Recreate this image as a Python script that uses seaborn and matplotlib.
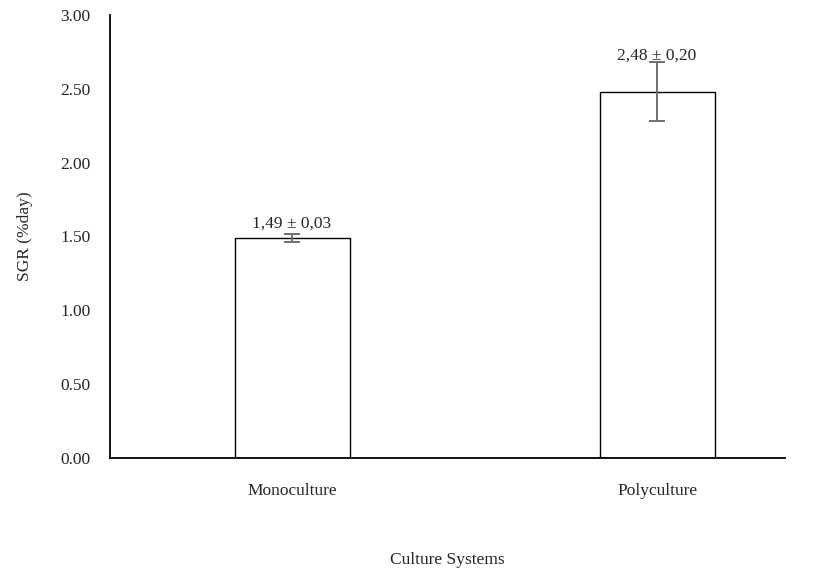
import matplotlib
matplotlib.use('Agg')
import matplotlib.pyplot as plt
import seaborn as sns
import pandas as pd

# dados do grafico
sistemas = ['Monoculture', 'Polyculture']
sgr_media = [1.49, 2.48]
sgr_desvio = [0.03, 0.20]
rotulos = ['1,49 ± 0,03', '2,48 ± 0,20']
yticks = [0.0, 0.5, 1.0, 1.5, 2.0, 2.5, 3.0]

sns.set_style('white')
plt.rcParams['font.family'] = ['Liberation Serif', 'DejaVu Serif']

df = pd.DataFrame({'sistema': sistemas, 'sgr': sgr_media})

fig = plt.figure(figsize=(8.29, 5.74), dpi=100)
ax = fig.add_axes([0.1327, 0.202, 0.8143, 0.772])

sns.barplot(data=df, x='sistema', y='sgr', ax=ax, errorbar=None,
            color='white', edgecolor='black', linewidth=1.0, width=0.315)

ax.errorbar(range(len(sistemas)), sgr_media, yerr=sgr_desvio, fmt='none',
            ecolor='#707070', elinewidth=1.4, capsize=5.5, capthick=1.4)

# rotulos acima das barras
desloc = [0.10, 0.245]
for i, txt in enumerate(rotulos):
    ax.text(i, sgr_media[i] + desloc[i], txt, ha='center', va='center', fontsize=12.5)

ax.set_xlim(-0.4986, 1.3507)
ax.set_ylim(0, 3.0)
ax.set_yticks(yticks)
ax.set_yticklabels(['%.2f' % v for v in yticks])
ax.tick_params(axis='both', length=0, labelsize=12.5)
ax.tick_params(axis='x', pad=18)
ax.tick_params(axis='y', pad=14)

for s in ['top', 'right']:
    ax.spines[s].set_visible(False)
for s in ['left', 'bottom']:
    ax.spines[s].set_color('black')
    ax.spines[s].set_linewidth(1.3)

ax.set_xlabel('Culture Systems', fontsize=12.5, labelpad=38)
ax.set_ylabel('SGR (%day)', fontsize=12.5, labelpad=20)

fig.savefig('out.png', dpi=100)
